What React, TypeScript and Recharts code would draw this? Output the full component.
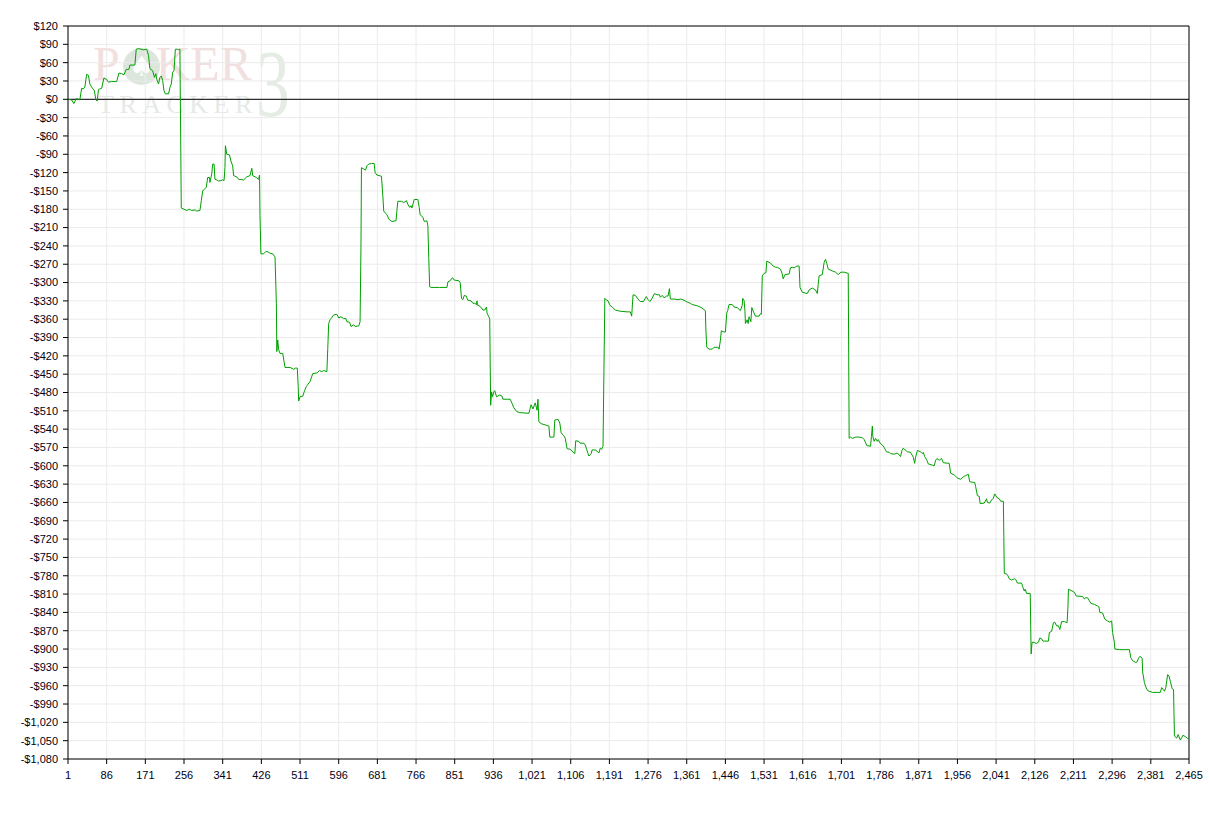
import React from 'react';
import { LineChart, Line, XAxis, YAxis, CartesianGrid, ReferenceLine } from 'recharts';

// Hand number (x) and cumulative winnings in $ (y)
const HANDS = [
  1, 9, 14, 19, 24, 27, 31, 35, 38, 42, 46, 49, 53, 59, 62, 65, 68, 71, 75, 80, 85, 90, 96, 108, 113, 119, 124, 129, 135, 137, 148, 151, 156, 167, 174, 178, 181, 187, 191, 194, 196, 200, 203, 206, 209, 212, 215, 222, 225, 228, 231, 234, 237, 241, 244, 247,
  250, 256, 262, 268, 273, 280, 284, 291, 294, 297, 301, 305, 308, 312, 313, 317, 319, 322, 324, 328, 332, 337, 341, 344, 346, 347, 350, 356, 359, 363, 365, 372, 376, 387, 394, 401, 405, 407, 415, 420, 422, 423, 425, 431, 436, 441, 445, 451, 456, 459, 460, 462, 464, 467, 473, 476, 478, 489, 497, 501, 505, 507, 508, 511, 517, 521, 525, 528, 533, 539, 548, 554, 559, 563, 570, 572, 574, 577, 585, 592, 596, 601, 607, 612, 614, 620, 623, 629, 632, 640, 643, 645, 646, 651, 655, 658, 662, 668, 674, 676, 680, 690, 693, 695, 702, 707, 713, 720, 722, 724, 726, 734, 739, 745, 748, 752, 755, 757, 762, 770, 773, 775, 781, 784, 790, 792, 794, 796,
  799, 818, 834, 836, 841, 846, 850, 860, 863, 866, 869, 872, 876, 880, 887, 891, 895, 899, 900, 901, 907, 913, 917, 921, 922, 926, 928, 929, 930, 932, 934, 937, 939, 943, 950, 955, 957, 973, 977, 981, 987, 994, 1014, 1016, 1019, 1023, 1028, 1032, 1034, 1036, 1041, 1045, 1050, 1058, 1060, 1069, 1071, 1078, 1082, 1085, 1091, 1094, 1098, 1105, 1113, 1115, 1117, 1124, 1127, 1135, 1138, 1141, 1144, 1146, 1151, 1153, 1160, 1164, 1168, 1171, 1174, 1177, 1179, 1181,
  1182, 1188, 1192, 1197, 1204, 1215, 1230, 1237, 1240, 1243, 1248, 1254, 1259, 1266, 1272, 1276, 1280, 1284, 1290, 1296, 1301, 1303, 1307, 1311, 1317, 1320, 1323, 1325, 1333, 1342, 1348, 1355, 1362, 1369, 1373, 1384, 1393, 1402, 1403, 1405, 1410, 1417, 1421, 1430, 1432, 1435, 1437, 1443, 1446, 1449, 1451, 1454, 1461, 1465, 1472, 1479, 1483, 1484, 1487, 1489, 1490, 1494, 1496, 1498, 1502, 1504, 1509, 1512, 1520, 1523, 1525, 1527, 1531, 1535, 1537, 1545, 1551, 1556, 1560, 1567, 1571, 1573, 1577, 1586, 1589, 1593, 1597, 1603, 1608, 1610, 1615, 1626, 1630, 1637, 1644, 1648, 1650, 1652, 1659, 1663, 1666, 1669, 1672, 1681, 1688, 1694, 1700, 1707, 1716,
  1717, 1718, 1721, 1725, 1732, 1740, 1747, 1751, 1757, 1765, 1767, 1769, 1770, 1773, 1776, 1780, 1782, 1786, 1791, 1795, 1800, 1806, 1809, 1817, 1824, 1831, 1834, 1837, 1841, 1846, 1853, 1859, 1862, 1864, 1868, 1875, 1879, 1881, 1884, 1889, 1892, 1901, 1905, 1908, 1911, 1916, 1921, 1925, 1938, 1941, 1949, 1956, 1963, 1969, 1974, 1980, 1983, 1989, 1994, 1996, 2000, 2004, 2006, 2015, 2020, 2022, 2027, 2031,
  2035, 2038, 2043, 2048, 2051, 2057, 2058, 2059, 2064, 2067, 2070, 2075, 2081, 2084, 2088, 2097, 2100, 2103, 2105, 2108, 2116, 2117, 2118, 2120, 2125, 2129, 2134, 2137, 2141, 2144, 2156, 2158, 2163, 2167, 2170, 2174, 2178, 2181, 2185, 2191, 2197, 2199, 2200, 2208, 2213, 2217, 2231, 2235, 2238, 2242, 2246, 2249, 2257, 2263, 2267, 2269, 2275, 2280, 2286, 2291, 2295, 2297, 2301, 2302, 2312, 2323, 2334, 2337, 2341, 2348, 2351, 2354, 2357, 2362, 2363, 2367, 2370, 2374, 2385, 2395, 2402, 2405, 2408, 2411, 2414, 2418, 2421, 2424, 2428, 2431, 2432, 2433, 2438, 2441, 2446, 2449, 2452, 2458, 2461, 2465,
];

const PROFIT = [
  0, -1, -7, 1, 0, -1, 18, 17, 20, 41, 39, 25, 20, 14, 0, -3, 16, 17, 18, 35, 33, 28, 29, 29, 43, 42, 40, 49, 49, 56, 56, 82, 83, 81, 82, 72, 50, 47, 36, 42, 33, 25, 36, 38, 31, 14, 9, 9, 19, 25, 44, 47, 82, 82, 81, 82,
  -178, -180, -182, -180, -182, -181, -183, -182, -166, -150, -147, -144, -128, -128, -136, -122, -106, -106, -131, -132, -134, -133, -132, -133, -112, -76, -90, -91, -101, -109, -125, -127, -131, -132, -127, -125, -113, -125, -128, -131, -124, -190, -253, -253, -249, -250, -252, -253, -258, -334, -413, -394, -410, -416, -416, -430, -439, -439, -442, -440, -440, -470, -494, -487, -486, -477, -470, -467, -462, -449, -448, -444, -446, -444, -446, -408, -367, -361, -353, -352, -358, -356, -359, -359, -364, -365, -372, -369, -372, -371, -364, -237, -112, -114, -116, -109, -106, -105, -105, -120, -124, -126, -158, -183, -189, -197, -200, -199, -199, -182, -167, -167, -169, -166, -172, -177, -174, -178, -164, -164, -177, -189, -193, -200, -199, -207, -261, -307,
  -308, -308, -308, -299, -297, -292, -296, -297, -300, -326, -328, -321, -322, -329, -330, -334, -334, -336, -330, -337, -339, -345, -345, -340, -350, -356, -360, -433, -501, -479, -487, -479, -477, -487, -484, -486, -491, -491, -498, -505, -511, -513, -514, -508, -500, -507, -497, -509, -491, -528, -531, -532, -533, -535, -553, -553, -525, -524, -530, -546, -551, -555, -572, -573, -579, -580, -559, -560, -563, -563, -566, -573, -580, -584, -580, -574, -574, -576, -579, -571, -573, -568, -445, -326,
  -327, -330, -337, -340, -345, -347, -348, -348, -355, -320, -321, -327, -331, -331, -323, -328, -331, -327, -318, -320, -320, -324, -321, -325, -322, -322, -310, -327, -327, -328, -327, -329, -332, -334, -336, -338, -341, -346, -376, -406, -409, -409, -406, -406, -409, -395, -379, -381, -381, -350, -346, -336, -336, -340, -341, -346, -337, -326, -329, -347, -367, -361, -367, -356, -364, -341, -350, -355, -355, -351, -352, -289, -285, -284, -265, -268, -273, -275, -275, -278, -286, -294, -287, -286, -276, -275, -276, -273, -273, -308, -316, -318, -312, -309, -312, -318, -303, -289, -287, -267, -262, -269, -278, -281, -283, -287, -283, -283, -285,
  -420, -555, -553, -555, -553, -553, -554, -557, -567, -568, -552, -535, -552, -560, -555, -560, -557, -563, -566, -570, -577, -578, -580, -581, -579, -585, -575, -571, -574, -577, -578, -586, -596, -586, -575, -577, -580, -578, -585, -591, -597, -599, -600, -591, -588, -591, -588, -595, -596, -612, -615, -620, -622, -618, -616, -614, -626, -627, -627, -634, -649, -650, -662, -661, -654, -660, -661, -656,
  -653, -646, -652, -654, -658, -658, -718, -776, -777, -780, -785, -787, -785, -786, -792, -792, -799, -805, -802, -809, -809, -859, -908, -889, -889, -891, -889, -882, -883, -887, -887, -873, -871, -857, -856, -862, -862, -868, -855, -855, -857, -830, -802, -805, -807, -813, -814, -818, -816, -816, -821, -825, -827, -829, -831, -840, -841, -851, -854, -856, -854, -873, -889, -900, -901, -901, -901, -914, -919, -922, -921, -915, -912, -915, -937, -955, -962, -968, -971, -971, -971, -963, -966, -969, -963, -942, -944, -953, -965, -966, -1006, -1042, -1046, -1040, -1049, -1045, -1041, -1044, -1046, -1047,
];

const X_TICKS = [1, 86, 171, 256, 341, 426, 511, 596, 681, 766, 851, 936, 1021, 1106, 1191, 1276, 1361, 1446, 1531, 1616, 1701, 1786, 1871, 1956, 2041, 2126, 2211, 2296, 2381, 2465];
const Y_TICKS = [120, 90, 60, 30, 0, -30, -60, -90, -120, -150, -180, -210, -240, -270, -300, -330, -360, -390, -420, -450, -480, -510, -540, -570, -600, -630, -660, -690, -720, -750, -780, -810, -840, -870, -900, -930, -960, -990, -1020, -1050, -1080];

const data = HANDS.map((h, i) => ({ hand: h, v: PROFIT[i] }));

const fmtX = (v: number) => v.toLocaleString('en-US');
const fmtY = (v: number) => (v < 0 ? '-' : '') + '$' + Math.abs(v).toLocaleString('en-US');

const tickStyle = { fontSize: 11, fill: '#000014', fontFamily: '"Liberation Sans", Arial, sans-serif' };

export default function App() {
  return (
    <div style={{ position: 'absolute', left: 0, top: 0, width: 1210, height: 832, background: '#fff', overflow: 'hidden' }}>
      <div style={{ position: 'absolute', left: 93, top: 40, fontFamily: '"Liberation Serif", serif', fontSize: 48, lineHeight: '48px', color: '#f2e0e0', whiteSpace: 'nowrap' }}>
        P<span style={{ display: 'inline-block', width: 36 }} />KER
      </div>
      <div style={{ position: 'absolute', left: 123, top: 48, width: 37, height: 37, borderRadius: '50%', background: '#dde6dd', color: '#fff', fontSize: 28, lineHeight: '37px', textAlign: 'center', fontFamily: '"DejaVu Sans", sans-serif' }}>
        ♠
      </div>
      <div style={{ position: 'absolute', left: 98, top: 92, fontFamily: '"Liberation Serif", serif', fontSize: 26, lineHeight: '26px', letterSpacing: 5.5, color: '#e6e9e6', whiteSpace: 'nowrap' }}>
        TRACKER
      </div>
      <div style={{ position: 'absolute', left: 256, top: 36, fontFamily: '"Liberation Serif", serif', fontSize: 96, lineHeight: '96px', color: '#e4ece4', transform: 'scaleX(0.7)', transformOrigin: 'left top' }}>
        3
      </div>
      <div style={{ position: 'absolute', left: 0, top: 0 }}>
        <LineChart width={1210} height={832} data={data} margin={{ top: 26, right: 21, bottom: 43, left: 0 }}>
          <CartesianGrid stroke="#ebebeb" strokeWidth={1} />
          <XAxis
            dataKey="hand"
            type="number"
            domain={[1, 2465]}
            ticks={X_TICKS}
            interval={0}
            tickFormatter={fmtX}
            height={30}
            tick={tickStyle}
            tickSize={5}
            tickMargin={7}
            axisLine={{ stroke: '#000' }}
            tickLine={{ stroke: '#000' }}
            allowDataOverflow
          />
          <YAxis
            type="number"
            domain={[-1080, 120]}
            ticks={Y_TICKS}
            interval={0}
            tickFormatter={fmtY}
            width={68}
            tick={tickStyle}
            tickSize={5}
            tickMargin={5}
            axisLine={{ stroke: '#000' }}
            tickLine={{ stroke: '#000' }}
            allowDataOverflow
          />
          <ReferenceLine y={0} stroke="#000" strokeWidth={1} />
          <ReferenceLine y={120} stroke="#000" strokeWidth={1} />
          <ReferenceLine x={2465} stroke="#000" strokeWidth={1} />
          <Line
            type="linear"
            dataKey="v"
            stroke="#00a000"
            strokeWidth={1}
            dot={false}
            activeDot={false}
            isAnimationActive={false}
          />
        </LineChart>
      </div>
    </div>
  );
}
